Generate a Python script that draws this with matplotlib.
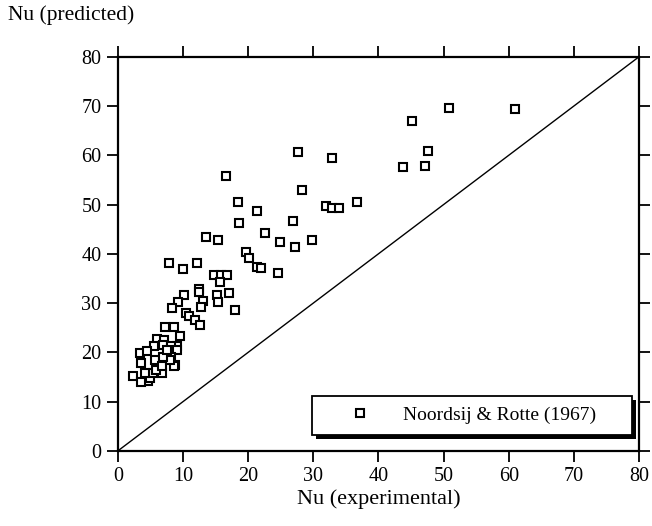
"""Predicted vs experimental Nusselt number, Noordsij & Rotte (1967) data."""

import matplotlib

matplotlib.use("Agg")
import matplotlib.pyplot as plt
from matplotlib.patches import Rectangle

# ── Data ─────────────────────────────────────────────────────────────────────

nu_experimental = [
    50.8, 61.0, 45.1, 47.6, 47.1, 43.8, 32.8, 27.6, 28.2, 31.9,
    32.9, 33.9, 36.7, 16.6, 18.5, 21.4, 18.6, 26.9, 22.5, 24.9,
    27.2, 29.8, 13.5, 15.3, 19.6, 20.1, 21.3, 21.9, 24.5, 14.7,
    15.8, 16.8, 15.6, 15.2, 17.1, 15.3, 7.9, 10.0, 12.1, 12.5,
    12.5, 10.2, 9.2, 8.3, 13.1, 12.8, 17.9, 10.5, 10.9, 11.8,
    12.6, 7.2, 8.6, 6.0, 7.1, 9.5, 9.0, 6.9, 5.5, 8.1,
    3.3, 4.4, 9.1, 8.2, 8.7, 5.7, 3.6, 2.3, 6.7, 4.6,
    3.5, 4.9, 5.4, 4.1, 5.9, 6.7, 8.6, 8.0, 6.9, 7.5,
]
nu_predicted = [
    69.6, 69.5, 66.9, 60.9, 57.8, 57.7, 59.4, 60.6, 53.0, 49.8,
    49.2, 49.2, 50.6, 55.8, 50.5, 48.7, 46.3, 46.6, 44.3, 42.4,
    41.3, 42.8, 43.5, 42.7, 40.3, 39.1, 37.3, 37.2, 36.1, 35.6,
    35.7, 35.7, 34.2, 31.7, 32.0, 30.3, 38.2, 37.0, 38.2, 32.9,
    32.2, 31.7, 30.2, 29.0, 30.5, 29.2, 28.5, 28.0, 27.4, 26.6,
    25.6, 25.1, 25.1, 22.7, 22.5, 23.4, 21.2, 21.5, 21.3, 21.3,
    19.8, 20.2, 20.4, 19.0, 17.5, 18.5, 17.8, 15.1, 15.8, 14.1,
    13.9, 14.8, 15.8, 15.8, 16.4, 17.3, 17.3, 18.5, 19.1, 20.5,
]
series_label = "Noordsij & Rotte (1967)"
parity = [0, 80]
ticks = [0, 10, 20, 30, 40, 50, 60, 70, 80]

plt.rcParams["font.family"] = ["Liberation Serif", "DejaVu Serif"]

fig = plt.figure(figsize=(6.52, 5.26), dpi=100)
ax = fig.add_axes([0.181, 0.143, 0.799, 0.749])

ax.plot(parity, parity, color="black", linewidth=1.0)
ax.plot(
    nu_experimental, nu_predicted, linestyle="none", marker="s",
    markersize=6, markerfacecolor="white", markeredgecolor="black",
    markeredgewidth=1.5, label=series_label,
)

ax.set_xlim(0, 80)
ax.set_ylim(0, 80)
ax.set_xticks(ticks)
ax.set_yticks(ticks)
ax.tick_params(
    direction="out", length=8, width=1.3, labelsize=14.5, pad=4,
    top=True, right=True,
)
for spine in ax.spines.values():
    spine.set_linewidth(1.6)

ax.set_xlabel("Nu (experimental)", fontsize=16, labelpad=2)
fig.text(0.012, 0.972, "Nu (predicted)", fontsize=15.5, ha="left", va="center")

leg = ax.legend(
    loc="lower left", bbox_to_anchor=(0.372, 0.041, 0.614, 0.11),
    mode="expand", borderaxespad=0, fontsize=14, frameon=True,
    fancybox=False, framealpha=1.0, borderpad=0.55, handlelength=3.9,
    handletextpad=0.25, markerscale=0.85,
)
leg.get_frame().set_edgecolor("black")
leg.get_frame().set_facecolor("white")
leg.get_frame().set_linewidth(1.3)

# solid black drop shadow, offset down-right like the original
fig.canvas.draw()
box = leg.get_frame().get_window_extent()
shift = 4.5
shadow = Rectangle(
    (box.x0 + shift, box.y0 - shift), box.width, box.height,
    transform=None, facecolor="black", edgecolor="none", zorder=4.9,
)
ax.add_artist(shadow)

fig.savefig("out.png", dpi=100)
